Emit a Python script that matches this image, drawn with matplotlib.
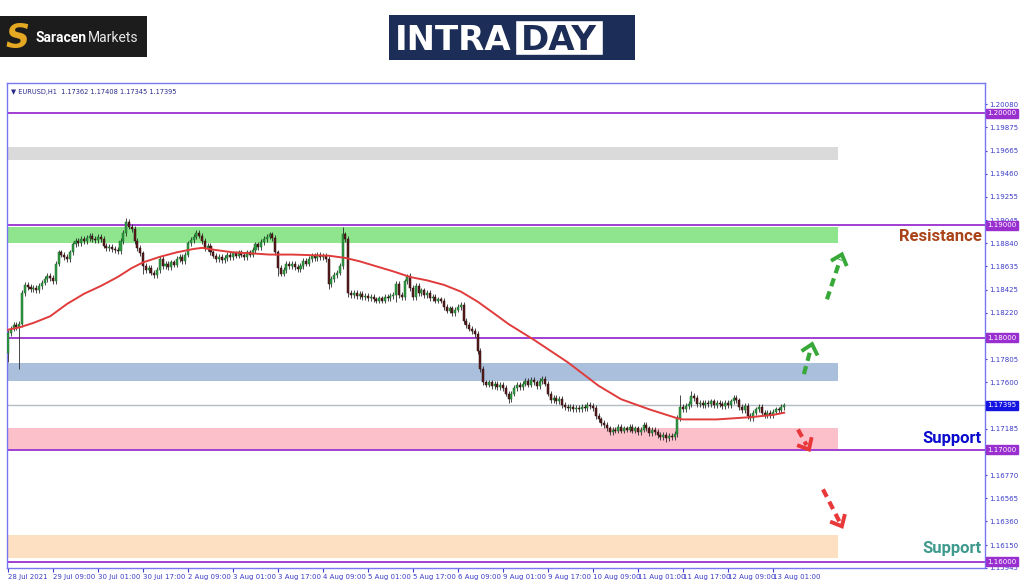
import numpy as np
import matplotlib
matplotlib.use("Agg")
import matplotlib.pyplot as plt
from matplotlib.patches import Rectangle
from matplotlib.transforms import IdentityTransform, blended_transform_factory

# hourly closes EURUSD H1, 28 Jul 17:00 -> 13 Aug ~04:00
closes = [
    1.1804, 1.1808, 1.1811, 1.1809, 1.1812, 1.1840, 1.1847, 1.1845,
    1.1843, 1.1844, 1.1842, 1.1846, 1.1849, 1.1852, 1.1855, 1.1853,
    1.1850, 1.1866, 1.1876, 1.1874, 1.1872, 1.1870, 1.1876, 1.1883,
    1.1886, 1.1884, 1.1888, 1.1886, 1.1889, 1.1891, 1.1888, 1.1887,
    1.1890, 1.1888, 1.1882, 1.1880, 1.1881, 1.1879, 1.1878, 1.1877,
    1.1886, 1.1893, 1.1903, 1.1899, 1.1897, 1.1886, 1.1880, 1.1875,
    1.1864, 1.1860, 1.1862, 1.1858, 1.1856, 1.1860, 1.1870, 1.1864,
    1.1866, 1.1863, 1.1867, 1.1865, 1.1870, 1.1872, 1.1868, 1.1874,
    1.1884, 1.1887, 1.1890, 1.1893, 1.1891, 1.1886, 1.1880, 1.1882,
    1.1876, 1.1873, 1.1870, 1.1872, 1.1869, 1.1871, 1.1874, 1.1872,
    1.1875, 1.1873, 1.1876, 1.1874, 1.1872, 1.1876, 1.1874, 1.1878,
    1.1883, 1.1881, 1.1885, 1.1888, 1.1890, 1.1892, 1.1889, 1.1876,
    1.1862, 1.1857, 1.1860, 1.1866, 1.1864, 1.1866, 1.1863, 1.1861,
    1.1864, 1.1868, 1.1866, 1.1870, 1.1873, 1.1871, 1.1874, 1.1872,
    1.1873, 1.1870, 1.1848, 1.1852, 1.1856, 1.1858, 1.1864, 1.1892,
    1.1888, 1.1840, 1.1838, 1.1840, 1.1837, 1.1839, 1.1836, 1.1837,
    1.1835, 1.1836, 1.1834, 1.1833, 1.1835, 1.1833, 1.1836, 1.1835,
    1.1837, 1.1838, 1.1848, 1.1838, 1.1836, 1.1850, 1.1855, 1.1844,
    1.1836, 1.1846, 1.1840, 1.1842, 1.1838, 1.1840, 1.1835, 1.1836,
    1.1833, 1.1834, 1.1833, 1.1827, 1.1824, 1.1826, 1.1822, 1.1825,
    1.1827, 1.1829, 1.1815, 1.1811, 1.1808, 1.1806, 1.1803, 1.1788,
    1.1772, 1.1760, 1.1758, 1.1760, 1.1757, 1.1759, 1.1756, 1.1758,
    1.1755, 1.1750, 1.1745, 1.1750, 1.1755, 1.1758, 1.1756, 1.1759,
    1.1761, 1.1758, 1.1762, 1.1760, 1.1757, 1.1761, 1.1763, 1.1759,
    1.1750, 1.1744, 1.1746, 1.1743, 1.1745, 1.1740, 1.1738, 1.1737,
    1.1738, 1.1736, 1.1737, 1.1736, 1.1738, 1.1737, 1.1740, 1.1739,
    1.1737, 1.1730, 1.1727, 1.1724, 1.1722, 1.1719, 1.1716, 1.1718,
    1.1717, 1.1720, 1.1717, 1.1719, 1.1718, 1.1720, 1.1717, 1.1719,
    1.1716, 1.1718, 1.1722, 1.1719, 1.1715, 1.1718, 1.1716, 1.1713,
    1.1711, 1.1713, 1.1710, 1.1712, 1.1711, 1.1714, 1.1728, 1.1738,
    1.1736, 1.1739, 1.1741, 1.1748, 1.1746, 1.1741, 1.1742, 1.1740,
    1.1742, 1.1741, 1.1743, 1.1740, 1.1742, 1.1741, 1.1739, 1.1742,
    1.1740, 1.1743, 1.1746, 1.1744, 1.1738, 1.1735, 1.1739, 1.1730,
    1.1728, 1.1733, 1.1736, 1.1738, 1.1733, 1.1731, 1.1733, 1.1731,
    1.1734, 1.1736, 1.1735, 1.1738, 1.17395,
]
first_open = 1.1786
# long wicks: bar -> (high, low)
spikes = {0: (None, 1.1778), 4: (None, 1.1772), 42: (1.1907, None),
          48: (None, 1.1857), 96: (None, 1.1855), 114: (None, 1.1843),
          119: (1.1899, None), 121: (None, 1.1836), 138: (None, 1.1832),
          142: (1.1857, None), 178: (None, 1.1742), 234: (None, 1.1707),
          239: (1.1749, None), 243: (1.1752, None)}

# moving average (red line), bar index / value
ma_idx = [0, 4, 9, 15, 21, 27, 33, 39, 44, 48, 54, 60, 66, 69, 74, 80, 87,
          93, 101, 114, 120, 125, 137, 143, 149, 155, 161, 167, 172, 178,
          187, 199, 210, 218, 228, 238, 240, 252, 264, 272, 276]
ma_val = [1.1807, 1.1809, 1.1813, 1.1819, 1.1830, 1.1839, 1.1846, 1.1854,
          1.1862, 1.1867, 1.1872, 1.1876, 1.1879, 1.1880, 1.1878, 1.1876,
          1.1875, 1.1874, 1.1874, 1.1873, 1.1871, 1.1868, 1.1859, 1.1854,
          1.1851, 1.1847, 1.1841, 1.1832, 1.1823, 1.1812, 1.1798, 1.1778,
          1.1757, 1.1745, 1.1736, 1.1728, 1.1727, 1.1727, 1.1729, 1.1731,
          1.1733]

xtick_labels = ["28 Jul 2021", "29 Jul 09:00", "30 Jul 01:00", "30 Jul 17:00",
                "2 Aug 09:00", "3 Aug 01:00", "3 Aug 17:00", "4 Aug 09:00",
                "5 Aug 01:00", "5 Aug 17:00", "6 Aug 09:00", "9 Aug 01:00",
                "9 Aug 17:00", "10 Aug 09:00", "11 Aug 01:00", "11 Aug 17:00",
                "12 Aug 09:00", "13 Aug 01:00"]
yticks = [1.20080, 1.19875, 1.19665, 1.19460, 1.19255, 1.19045, 1.18840,
          1.18635, 1.18425, 1.18220, 1.17805, 1.17600, 1.17185,
          1.16770, 1.16565, 1.16360, 1.16150, 1.15945]

levels = [1.20, 1.19, 1.18, 1.17, 1.16]
last_price = 1.17395

zone_lo = [1.19585, 1.1884, 1.1761, 1.1701, 1.1603]
zone_hi = [1.1970, 1.1899, 1.1777, 1.1719, 1.1624]
zone_colors = ["#dadada", "#8ee58e", "#a9bfdc", "#fcc0cb", "#fde0c2"]

# dashed arrows: (bar, price) tail -> tip
arrows = [((291.2, 1.18341), (296.5, 1.18741), "#38a838"),
          ((283.0, 1.17674), (285.9, 1.17941), "#38a838"),
          ((280.9, 1.17180), (284.8, 1.17002), "#e8383a"),
          ((289.8, 1.16646), (296.5, 1.16317), "#e8383a")]

W, H = 1024, 587
fig = plt.figure(figsize=(W / 100, H / 100), dpi=100)
fig.patch.set_facecolor("white")
ax = fig.add_axes([7 / W, 19 / H, 978 / W, 485 / H])

ax.set_xlim(-0.36, 347.4)
ax.set_ylim(1.15945, 1.2027)

# zones
for lo, hi, c in zip(zone_lo, zone_hi, zone_colors):
    ax.axhspan(lo, hi, xmin=0, xmax=0.85, color=c, lw=0, zorder=1)

for lv in levels:
    ax.axhline(lv, color="#9a2fd0", lw=1.3, zorder=2)
ax.axhline(last_price, color="#b4bcc4", lw=1.0, zorder=2)

# candles
closes = np.array(closes)
idx = np.arange(len(closes))
opens = np.r_[first_open, closes[:-1]]
wick = 0.00025
highs = np.maximum(opens, closes) + wick
lows = np.minimum(opens, closes) - wick
for i, (h, l) in spikes.items():
    if h is not None:
        highs[i] = h
    if l is not None:
        lows[i] = l
up = closes >= opens
ax.vlines(idx, lows, highs, color="#2a2a2a", lw=0.6, zorder=3)
body = np.where(np.abs(closes - opens) < 2e-5, 2e-5, closes - opens)
ax.bar(idx, body, bottom=opens, width=0.72,
       color=np.where(up, "#2f9a42", "#5a1c1c"),
       edgecolor=np.where(up, "#1d6b2b", "#2a0c0c"), lw=0.35, zorder=4)

ax.plot(ma_idx, ma_val, color="#e03c3c", lw=1.4, zorder=5)

# axes styling
for s in ax.spines.values():
    s.set_color("#7878f0")
    s.set_linewidth(1.0)
ax.yaxis.tick_right()
ax.set_yticks(yticks)
ax.set_yticklabels(["%.5f" % v for v in yticks])
ax.tick_params(axis="y", length=1.5, pad=1.5, labelsize=5, colors="#3c3cc8")
ax.set_xticks(range(0, 16 * len(xtick_labels), 16))
ax.set_xticklabels(xtick_labels)
for lbl in ax.get_xticklabels():
    lbl.set_ha("left")
ax.tick_params(axis="x", length=3, pad=1.5, labelsize=5, colors="#3c3cc8")

blend = blended_transform_factory(ax.transAxes, ax.transData)
for lv in levels:
    ax.text(1.0025, lv, "%.5f" % lv, transform=blend, fontsize=5, color="white",
            va="center", ha="left", zorder=10, clip_on=False,
            bbox=dict(boxstyle="square,pad=0.2", fc="#9a2fd0", ec="#9a2fd0"))
ax.text(1.0025, last_price, "%.5f" % last_price, transform=blend, fontsize=5,
        color="white", va="center", ha="left", zorder=10, clip_on=False,
        bbox=dict(boxstyle="square,pad=0.2", fc="#1414e0", ec="#1414e0"))

ax.text(0.004, 0.988, "\u25bc EURUSD,H1  1.17362 1.17408 1.17345 1.17395",
        transform=ax.transAxes, fontsize=4.8, color="#2a2a8a", va="top", ha="left")

# labels on the right
ax.text(346.3, 1.18900, "Resistance", family="Roboto", weight="bold", fontsize=12,
        color="#a94418", ha="right", va="center", zorder=6)
ax.text(346.3, 1.17097, "Support", family="Roboto", weight="bold", fontsize=12,
        color="#0a0acd", ha="right", va="center", zorder=6)
ax.text(346.3, 1.16119, "Support", family="Roboto", weight="bold", fontsize=12,
        color="#3f9a8e", ha="right", va="center", zorder=6)

# dashed arrows with chevron heads (drawn in pixels)
ident = IdentityTransform()
for (t, tip, c) in arrows:
    p0 = ax.transData.transform(t)
    p1 = ax.transData.transform(tip)
    d = p1 - p0
    u = d / np.hypot(*d)
    n = np.array([-u[1], u[0]])
    end = p1 - u * 5
    ax.plot([p0[0], end[0]], [p0[1], end[1]], transform=ident, color=c, lw=3,
            linestyle=(0, (2, 1.3)), solid_capstyle="butt", zorder=6)
    a = p1 - u * 8 + n * 7
    b = p1 - u * 8 - n * 7
    ax.plot([a[0], p1[0], b[0]], [a[1], p1[1], b[1]], transform=ident, color=c,
            lw=2.8, zorder=6, solid_joinstyle="miter")

# logos
def fx(x):
    return x / W

def fy(y):
    return 1 - y / H

fig.add_artist(Rectangle((fx(0), fy(57)), 147 / W, 41 / H, transform=fig.transFigure,
                         fc="#1c1c1c", ec="none"))
fig.text(fx(17), fy(48), "S", family="DejaVu Sans", weight="bold", style="italic",
         fontsize=24, color="#e5a823", ha="center", va="baseline")
fig.text(fx(35), fy(42), "Saracen", family="Roboto", weight="bold", fontsize=10,
         color="white", ha="left", va="baseline")
fig.text(fx(88), fy(42), "Markets", family="Roboto", fontsize=10,
         color="#e8e8e8", ha="left", va="baseline")

fig.add_artist(Rectangle((fx(389), fy(60)), 246 / W, 45 / H, transform=fig.transFigure,
                         fc="#1c2d57", ec="none"))
fig.add_artist(Rectangle((fx(515), fy(55)), 88 / W, 35 / H, transform=fig.transFigure,
                         fc="white", ec="#1c2d57", lw=1))
fig.text(fx(395), fy(50), "INTRA", family="DejaVu Sans", weight="bold", fontsize=24.5,
         color="white", ha="left", va="baseline")
fig.text(fx(559), fy(50), "DAY", family="DejaVu Sans", weight="bold", fontsize=24.5,
         color="#1c2d57", ha="center", va="baseline")
ax.annotate("", xy=(631, H - 19), xytext=(607, H - 37), xycoords="figure pixels",
            textcoords="figure pixels", annotation_clip=False,
            arrowprops=dict(arrowstyle="simple,head_width=1.1,head_length=0.8,tail_width=0.55",
                            mutation_scale=11, color="#2ec4d6", lw=0))
ax.annotate("", xy=(606, H - 54), xytext=(629, H - 37), xycoords="figure pixels",
            textcoords="figure pixels", annotation_clip=False,
            arrowprops=dict(arrowstyle="simple,head_width=1.1,head_length=0.8,tail_width=0.55",
                            mutation_scale=11, color="#e02fc8", lw=0))

fig.savefig("out.png", dpi=100)
